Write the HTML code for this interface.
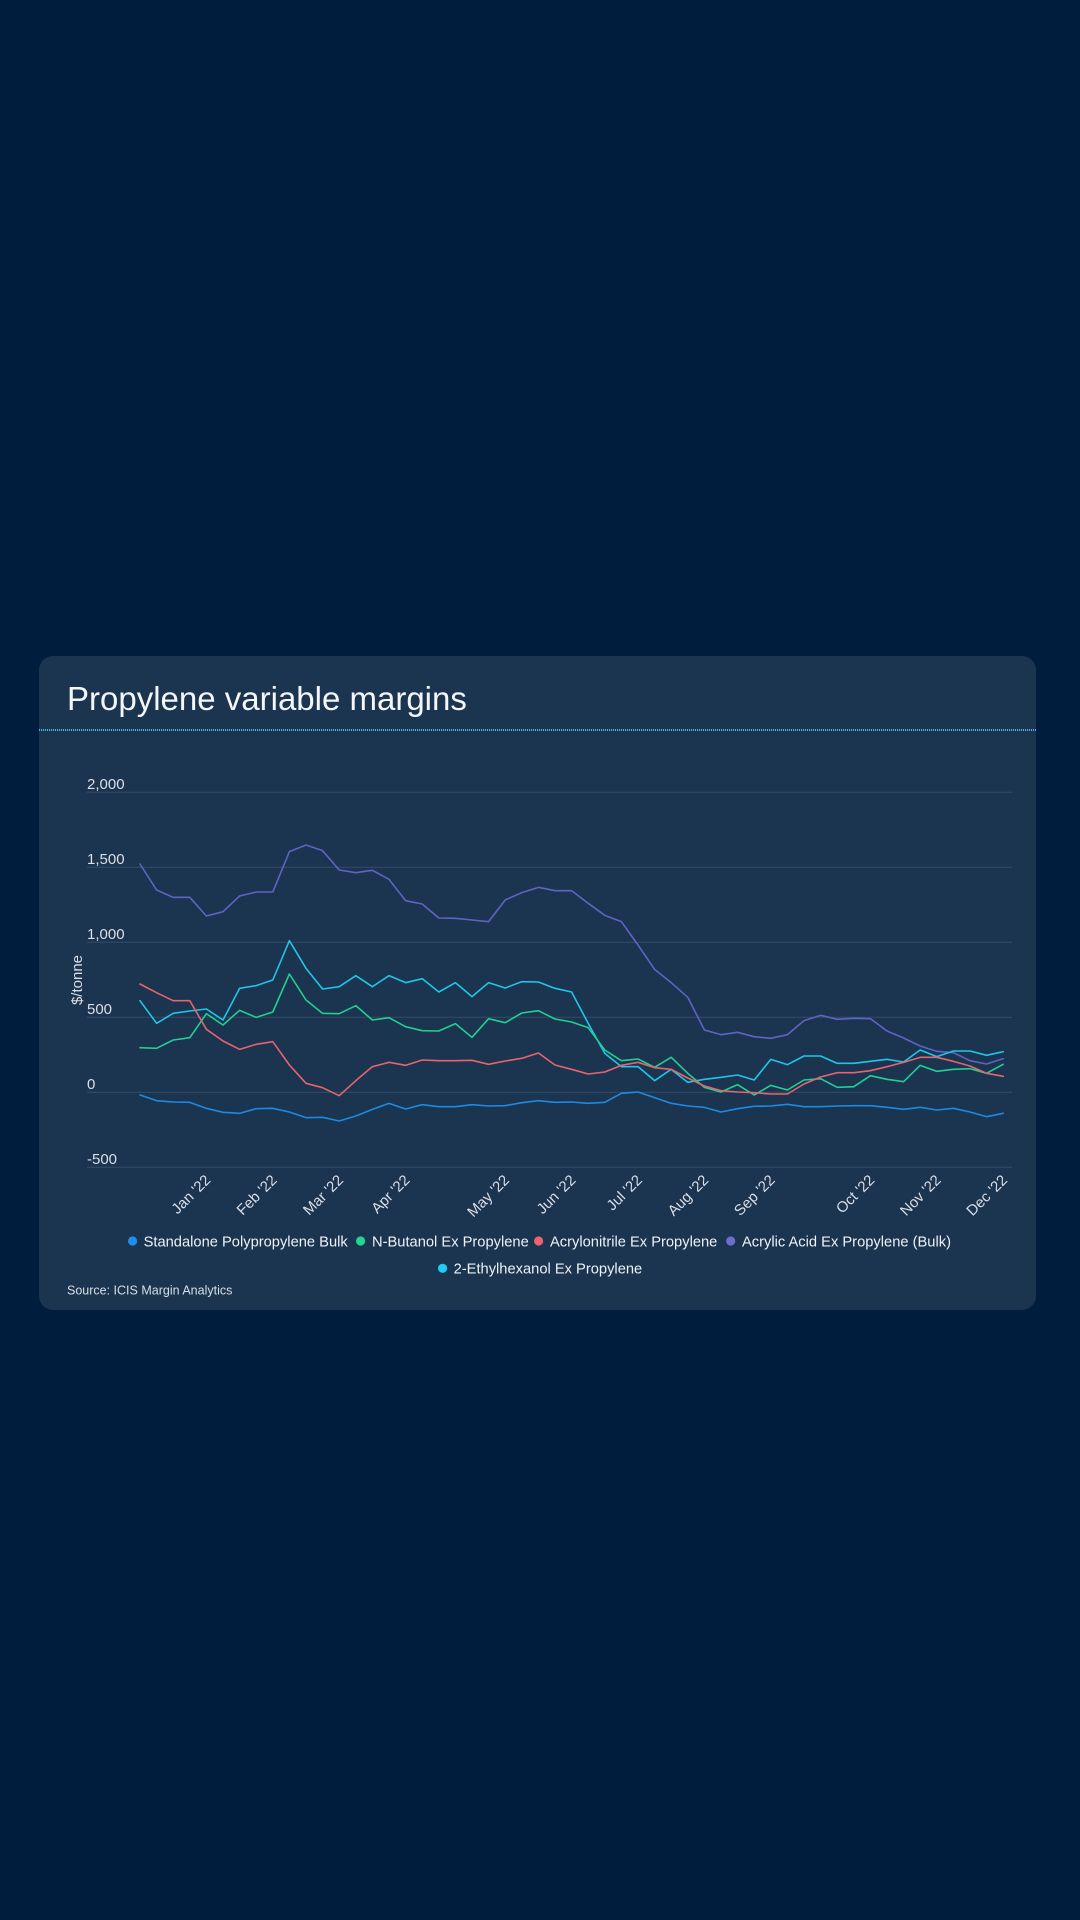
<!DOCTYPE html>
<html>
<head>
<meta charset="utf-8">
<style>
  html, body { margin:0; padding:0; }
  body { width:1080px; height:1920px; background:#011d3e; overflow:hidden; position:relative; font-family:"Liberation Sans", Arial, sans-serif; }
  .card { position:absolute; left:39px; top:656px; width:997px; height:654px; background:#1b3450; border-radius:14px; }
  .dots { position:absolute; left:39px; top:729px; width:997px; height:2px;
          background:repeating-linear-gradient(90deg, #4fb2e2 0 1px, rgba(0,0,0,0) 1px 2px); }
  svg { position:absolute; left:0; top:0; }
  .lab { fill:#d9dee7; font-family:"Liberation Sans", Arial, sans-serif; font-size:15px; }
  .leg { fill:#eef1f5; font-family:"Liberation Sans", Arial, sans-serif; font-size:14.7px; }
  .ln { fill:none; stroke-width:1.6; stroke-linejoin:round; stroke-linecap:round; vector-effect:non-scaling-stroke; }
</style>
</head>
<body>
<div class="card"></div>
<div class="dots"></div>
<svg width="1080" height="1920" viewBox="0 0 1080 1920">
  <text x="67" y="710" fill="#f3f6fa" font-family="Liberation Sans, Arial, sans-serif" font-size="33">Propylene variable margins</text>

  <!-- gridlines -->
  <g stroke="#344d69" stroke-width="1">
    <line x1="87" x2="1012" y1="792.3" y2="792.3"/>
    <line x1="87" x2="1012" y1="867.3" y2="867.3"/>
    <line x1="87" x2="1012" y1="942.3" y2="942.3"/>
    <line x1="87" x2="1012" y1="1017.3" y2="1017.3"/>
    <line x1="87" x2="1012" y1="1092.3" y2="1092.3"/>
    <line x1="87" x2="1012" y1="1167.3" y2="1167.3"/>
  </g>
  <!-- y labels -->
  <text class="lab" x="87" y="789">2,000</text>
  <text class="lab" x="87" y="864">1,500</text>
  <text class="lab" x="87" y="939">1,000</text>
  <text class="lab" x="87" y="1014">500</text>
  <text class="lab" x="87" y="1089">0</text>
  <text class="lab" x="87" y="1164">-500</text>

  <text class="lab" x="82" y="980" text-anchor="middle" transform="rotate(-90 82 980)">$/tonne</text>

  <!-- x labels -->
  <g class="lab" text-anchor="end">
    <text x="211.4" y="1181" transform="rotate(-45 211.4 1181)">Jan '22</text>
    <text x="277.8" y="1181" transform="rotate(-45 277.8 1181)">Feb '22</text>
    <text x="344.2" y="1181" transform="rotate(-45 344.2 1181)">Mar '22</text>
    <text x="410.6" y="1181" transform="rotate(-45 410.6 1181)">Apr '22</text>
    <text x="510.2" y="1181" transform="rotate(-45 510.2 1181)">May '22</text>
    <text x="576.6" y="1181" transform="rotate(-45 576.6 1181)">Jun '22</text>
    <text x="643" y="1181" transform="rotate(-45 643 1181)">Jul '22</text>
    <text x="709.4" y="1181" transform="rotate(-45 709.4 1181)">Aug '22</text>
    <text x="775.8" y="1181" transform="rotate(-45 775.8 1181)">Sep '22</text>
    <text x="875.4" y="1181" transform="rotate(-45 875.4 1181)">Oct '22</text>
    <text x="941.8" y="1181" transform="rotate(-45 941.8 1181)">Nov '22</text>
    <text x="1008.2" y="1181" transform="rotate(-45 1008.2 1181)">Dec '22</text>
  </g>

  <!-- series: x = 140 + 16.6*i, y = 830 + zy/3 -->
  <g transform="translate(140 830) scale(16.6 0.333333)">
    <polyline class="ln" stroke="#5f63c4" points="0,102 1,180 2,202 3,202 4,258 5,245 6,198 7,186 8,186 9,65 10,45 11,62 12,120 13,128 14,121 15,148 16,212 17,222 18,264 19,265 20,270 21,275 22,210 23,188 24,172 25,182 26,182 27,220 28,256 29,275 30,345 31,418 32,458 33,502 34,600 35,614 36,607 37,620 38,625 39,614 40,572 41,556 42,568 43,565 44,566 45,603 46,624 47,648 48,664 49,668 50,692 51,702 52,686"/>
    <polyline class="ln" stroke="#20c6e6" points="0,512 1,580 2,550 3,543 4,537 5,570 6,475 7,467 8,450 9,332 10,415 11,477 12,470 13,437 14,470 15,437 16,458 17,446 18,486 19,458 20,500 21,458 22,474 23,455 24,456 25,475 26,486 27,580 28,670 29,710 30,710 31,752 32,718 33,757 34,748 35,742 36,735 37,750 38,688 39,704 40,678 41,678 42,700 43,700 44,694 45,688 46,696 47,660 48,680 49,663 50,663 51,676 52,665"/>
    <polyline class="ln" stroke="#22cf93" points="0,653 1,655 2,630 3,623 4,551 5,585 6,541 7,562 8,546 9,432 10,510 11,550 12,551 13,527 14,570 15,563 16,590 17,602 18,603 19,581 20,622 21,566 22,578 23,549 24,542 25,567 26,576 27,593 28,660 29,692 30,687 31,712 32,682 33,730 34,772 35,786 36,764 37,795 38,766 39,780 40,750 41,746 42,772 43,770 44,737 45,748 46,755 47,706 48,724 49,718 50,716 51,730 52,703"/>
    <polyline class="ln" stroke="#e4656f" points="0,462 1,488 2,512 3,512 4,598 5,633 6,658 7,643 8,635 9,705 10,760 11,773 12,797 13,752 14,710 15,697 16,706 17,690 18,692 19,692 20,691 21,703 22,693 23,685 24,669 25,705 26,718 27,732 28,726 29,706 30,697 31,713 32,718 33,744 34,768 35,782 36,786 37,788 38,792 39,792 40,762 41,741 42,728 43,728 44,722 45,710 46,697 47,682 48,682 49,694 50,708 51,730 52,739"/>
    <polyline class="ln" stroke="#1c8ae4" points="0,795 1,812 2,816 3,817 4,835 5,847 6,850 7,836 8,835 9,846 10,863 11,862 12,873 13,858 14,838 15,820 16,837 17,824 18,830 19,830 20,824 21,828 22,827 23,818 24,812 25,817 26,816 27,820 28,817 29,790 30,786 31,803 32,820 33,828 34,832 35,846 36,836 37,829 38,828 39,823 40,830 41,830 42,828 43,827 44,827 45,832 46,838 47,832 48,840 49,835 50,846 51,860 52,850"/>
  </g>

  <!-- legend -->
  <circle cx="132.6" cy="1241" r="4.6" fill="#1e8ff0"/>
  <text class="leg" x="143.6" y="1246.5">Standalone Polypropylene Bulk</text>
  <circle cx="360.6" cy="1241" r="4.6" fill="#22d592"/>
  <text class="leg" x="372" y="1246.5">N-Butanol Ex Propylene</text>
  <circle cx="538.6" cy="1241" r="4.6" fill="#ee6270"/>
  <text class="leg" x="550" y="1246.5">Acrylonitrile Ex Propylene</text>
  <circle cx="730.7" cy="1241" r="4.6" fill="#6d6dd0"/>
  <text class="leg" x="742" y="1246.5">Acrylic Acid Ex Propylene (Bulk)</text>
  <circle cx="442.6" cy="1268.3" r="4.6" fill="#1fcdf0"/>
  <text class="leg" x="453.6" y="1273.5">2-Ethylhexanol Ex Propylene</text>

  <text x="67" y="1294.3" fill="#d9dee7" font-family="Liberation Sans, Arial, sans-serif" font-size="12.5">Source: ICIS Margin Analytics</text>
</svg>
</body>
</html>
